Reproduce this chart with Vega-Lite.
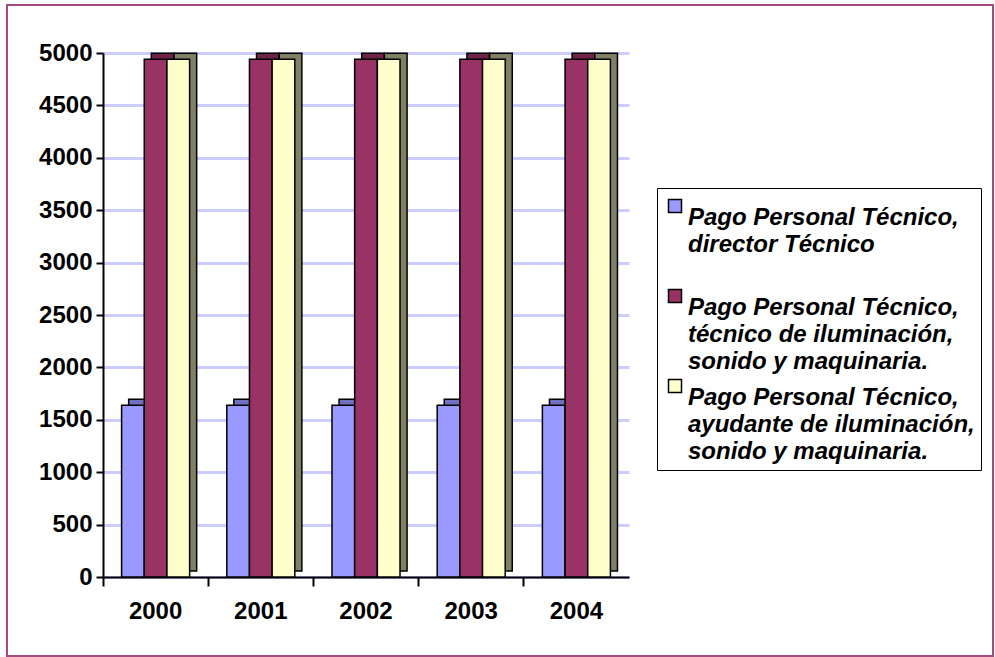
{
  "$schema": "https://vega.github.io/schema/vega-lite/v6.json",
  "width": 986,
  "height": 651,
  "autosize": {"type": "none"},
  "padding": {"left": 7, "top": 5, "right": 2, "bottom": 1},
  "background": "white",
  "config": {
    "view": {"stroke": "#a34c80", "strokeWidth": 2},
    "font": "Liberation Sans",
    "style": {"guide-label": {"lineHeight": 27}}
  },
  "data": {
    "values": [
      {"anio": "2000", "serie": "Pago Personal Técnico, director Técnico", "valor": 1640},
      {"anio": "2000", "serie": "Pago Personal Técnico, técnico de iluminación, sonido y maquinaria.", "valor": 4940},
      {"anio": "2000", "serie": "Pago Personal Técnico, ayudante de iluminación, sonido y maquinaria.", "valor": 4940},
      {"anio": "2001", "serie": "Pago Personal Técnico, director Técnico", "valor": 1640},
      {"anio": "2001", "serie": "Pago Personal Técnico, técnico de iluminación, sonido y maquinaria.", "valor": 4940},
      {"anio": "2001", "serie": "Pago Personal Técnico, ayudante de iluminación, sonido y maquinaria.", "valor": 4940},
      {"anio": "2002", "serie": "Pago Personal Técnico, director Técnico", "valor": 1640},
      {"anio": "2002", "serie": "Pago Personal Técnico, técnico de iluminación, sonido y maquinaria.", "valor": 4940},
      {"anio": "2002", "serie": "Pago Personal Técnico, ayudante de iluminación, sonido y maquinaria.", "valor": 4940},
      {"anio": "2003", "serie": "Pago Personal Técnico, director Técnico", "valor": 1640},
      {"anio": "2003", "serie": "Pago Personal Técnico, técnico de iluminación, sonido y maquinaria.", "valor": 4940},
      {"anio": "2003", "serie": "Pago Personal Técnico, ayudante de iluminación, sonido y maquinaria.", "valor": 4940},
      {"anio": "2004", "serie": "Pago Personal Técnico, director Técnico", "valor": 1640},
      {"anio": "2004", "serie": "Pago Personal Técnico, técnico de iluminación, sonido y maquinaria.", "valor": 4940},
      {"anio": "2004", "serie": "Pago Personal Técnico, ayudante de iluminación, sonido y maquinaria.", "valor": 4940}
    ]
  },
  "layer": [
    {
      "mark": {"type": "bar", "yOffset": -6, "stroke": "black", "strokeWidth": 1.5},
      "encoding": {
        "x": {
          "field": "anio", "type": "nominal",
          "scale": {"type": "band", "domain": ["2000", "2001", "2002", "2003", "2004"], "range": [96, 622], "paddingInner": 0, "paddingOuter": 0},
          "axis": {"orient": "bottom", "offset": -79, "bandPosition": 0, "labels": false, "domain": false, "ticks": true, "tickSize": 9, "tickWidth": 2, "tickColor": "black", "grid": false, "title": null}
        },
        "xOffset": {
          "field": "serie", "type": "nominal",
          "scale": {"domain": ["Pago Personal Técnico, director Técnico", "Pago Personal Técnico, técnico de iluminación, sonido y maquinaria.", "Pago Personal Técnico, ayudante de iluminación, sonido y maquinaria."], "paddingInner": 0, "paddingOuter": 0.82, "align": 0.69}
        },
        "y": {
          "field": "valor", "type": "quantitative",
          "scale": {"domain": [0, 5000], "range": [572, 48], "nice": false, "zero": true},
          "axis": {"orient": "left", "offset": -96, "format": "d", "values": [0, 500, 1000, 1500, 2000, 2500, 3000, 3500, 4000, 4500, 5000], "domainColor": "black", "domainWidth": 2, "tickColor": "black", "tickWidth": 2, "tickSize": 7, "labelFontWeight": "bold", "labelFontSize": 24, "labelColor": "black", "labelPadding": 4, "grid": true, "gridColor": "#ccccff", "gridWidth": 3, "title": null}
        },
        "color": {
          "field": "serie", "type": "nominal",
          "scale": {"domain": ["Pago Personal Técnico, director Técnico", "Pago Personal Técnico, técnico de iluminación, sonido y maquinaria.", "Pago Personal Técnico, ayudante de iluminación, sonido y maquinaria."], "range": ["#7070c0", "#6e2449", "#808064"]},
          "legend": null
        }
      }
    },
    {
      "mark": {"type": "bar", "stroke": "black", "strokeWidth": 1.5, "opacity": 1},
      "encoding": {
        "x": {
          "field": "anio", "type": "nominal",
          "axis": {"orient": "bottom", "offset": -79, "labels": true, "domain": true, "domainColor": "black", "domainWidth": 2, "ticks": false, "tickSize": 0, "labelFontWeight": "bold", "labelFontSize": 24, "labelColor": "black", "labelPadding": 22, "labelAngle": 0, "grid": false, "title": null}
        },
        "xOffset": {
          "field": "serie", "type": "nominal",
          "scale": {"domain": ["Pago Personal Técnico, director Técnico", "Pago Personal Técnico, técnico de iluminación, sonido y maquinaria.", "Pago Personal Técnico, ayudante de iluminación, sonido y maquinaria."], "paddingInner": 0, "paddingOuter": 0.82, "align": 0.5}
        },
        "y": {"field": "valor", "type": "quantitative"},
        "color": {
          "field": "serie", "type": "nominal",
          "scale": {"domain": ["Pago Personal Técnico, director Técnico", "Pago Personal Técnico, técnico de iluminación, sonido y maquinaria.", "Pago Personal Técnico, ayudante de iluminación, sonido y maquinaria."], "range": ["#9999ff", "#993366", "#ffffcc"]},
          "legend": {
            "orient": "none", "legendX": 650, "legendY": 183,
            "title": null,
            "symbolType": "square", "symbolSize": 169, "symbolStrokeColor": "black", "symbolStrokeWidth": 1.5,
            "labelFontWeight": "bold", "labelFontStyle": "italic", "labelFontSize": 24, "labelColor": "black", "labelLimit": 0, "labelOffset": 1,
            "labelBaseline": "top",
            "labelExpr": "indexof(substring(datum.label, indexof(datum.label, ', ') + 2), ', ') < 0 ? [substring(datum.label, 0, indexof(datum.label, ', ') + 1), substring(datum.label, indexof(datum.label, ', ') + 2), ' '] : [substring(datum.label, 0, indexof(datum.label, ', ') + 1), substring(datum.label, indexof(datum.label, ', ') + 2, lastindexof(datum.label, ', ') + 1), substring(datum.label, lastindexof(datum.label, ', ') + 2)]",
            "strokeColor": "black", "fillColor": "white", "padding": 6, "rowPadding": 0
          }
        }
      }
    }
  ],
  "resolve": {"scale": {"color": "independent", "xOffset": "independent"}, "axis": {"x": "independent"}}
}
